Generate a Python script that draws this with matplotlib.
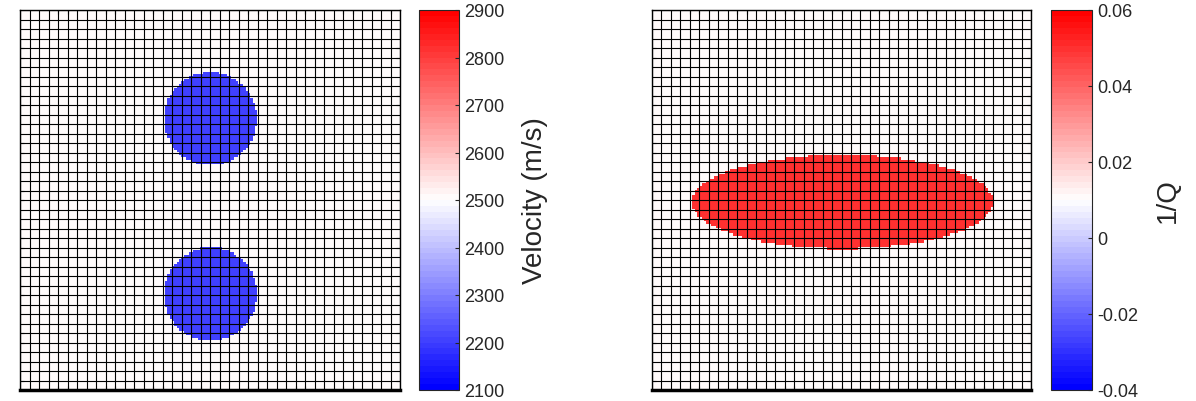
import numpy as np
import matplotlib.pyplot as plt
from matplotlib.colors import Normalize

plt.rcParams['font.family'] = ['Liberation Sans', 'DejaVu Sans']

# model mesh: 40 x 40 cells, each sampled 4 x 4
ncell = 40
nsamp = 160

# velocity model: two circular low-velocity bodies
vel_bg = 2500.0
vel_anom = 2200.0
circ_x = [20.05, 20.05]
circ_z = [11.45, 29.9]
circ_r = [4.9, 4.9]
vel_range = [2100, 2900]
vel_ticks = [2100, 2200, 2300, 2400, 2500, 2600, 2700, 2800, 2900]

# attenuation model: one elliptical high 1/Q body
q_bg = 0.01
q_anom = 0.05
ell_x, ell_z = 20.1, 20.2
ell_a, ell_b = 15.9, 4.95
q_range = [-0.04, 0.06]
q_ticks = [-0.04, -0.02, 0, 0.02, 0.04, 0.06]
q_labels = ['-0.04', '-0.02', '0', '0.02', '0.04', '0.06']

# small tick marks along the frame (cell units)
frame_ticks = [4, 5, 9, 10, 14, 15, 19, 20, 24, 25, 29, 30, 34, 35, 39]

c = (np.arange(nsamp) + 0.5) * ncell / nsamp
X, Z = np.meshgrid(c, c)

vel = np.full((nsamp, nsamp), vel_bg)
for cx, cz, r in zip(circ_x, circ_z, circ_r):
    vel[(X - cx) ** 2 + (Z - cz) ** 2 <= r ** 2] = vel_anom

invq = np.full((nsamp, nsamp), q_bg)
invq[((X - ell_x) / ell_a) ** 2 + ((Z - ell_z) / ell_b) ** 2 <= 1] = q_anom

cmap = plt.get_cmap('bwr', 64)
W, H = 1196, 402
fig = plt.figure(figsize=(W / 100, H / 100), dpi=100)


def box(x0, y0, x1, y1):
    return [x0 / W, 1 - y1 / H, (x1 - x0) / W, (y1 - y0) / H]


def panel(ax, cax, data, rng, ticks, labels, title, lab_x):
    norm = Normalize(*rng)
    im = ax.imshow(data, cmap=cmap, norm=norm, extent=[0, ncell, ncell, 0],
                   interpolation='nearest', aspect='auto')
    ax.vlines(np.arange(ncell + 1), 0, ncell, color='k', lw=0.8)
    ax.hlines(np.arange(ncell + 1), 0, ncell, color='k', lw=0.8)
    ax.set_xlim(0, ncell)
    ax.set_ylim(ncell, 0)
    ax.set_xticks(frame_ticks)
    ax.set_yticks(frame_ticks)
    ax.tick_params(direction='in', length=3, width=0.8, top=True, right=True,
                   labelbottom=False, labelleft=False)
    for s in ax.spines.values():
        s.set_linewidth(1.0)
    ax.spines['bottom'].set_linewidth(2.5)

    cb = fig.colorbar(im, cax=cax, ticks=ticks)
    cb.ax.set_yticklabels(labels)
    cb.ax.tick_params(direction='in', length=3, width=0.8, labelsize=13,
                      labelcolor='#262626', color='#262626', pad=4)
    cb.outline.set_linewidth(0.8)
    cb.outline.set_edgecolor('#262626')
    cax.text(lab_x, 0.5, title, rotation=90, ha='center', va='center',
             fontsize=20, color='#262626', transform=cax.transAxes)


ax1 = fig.add_axes(box(20, 11, 400, 391))
cax1 = fig.add_axes(box(419, 11, 459, 391))
ax2 = fig.add_axes(box(652, 11, 1031, 391))
cax2 = fig.add_axes(box(1051, 11, 1092, 391))

panel(ax1, cax1, vel, vel_range, vel_ticks, [str(t) for t in vel_ticks],
      'Velocity (m/s)', 2.9)
panel(ax2, cax2, invq, q_range, q_ticks, q_labels, '1/Q', 2.85)

fig.savefig('out.png', dpi=100)
